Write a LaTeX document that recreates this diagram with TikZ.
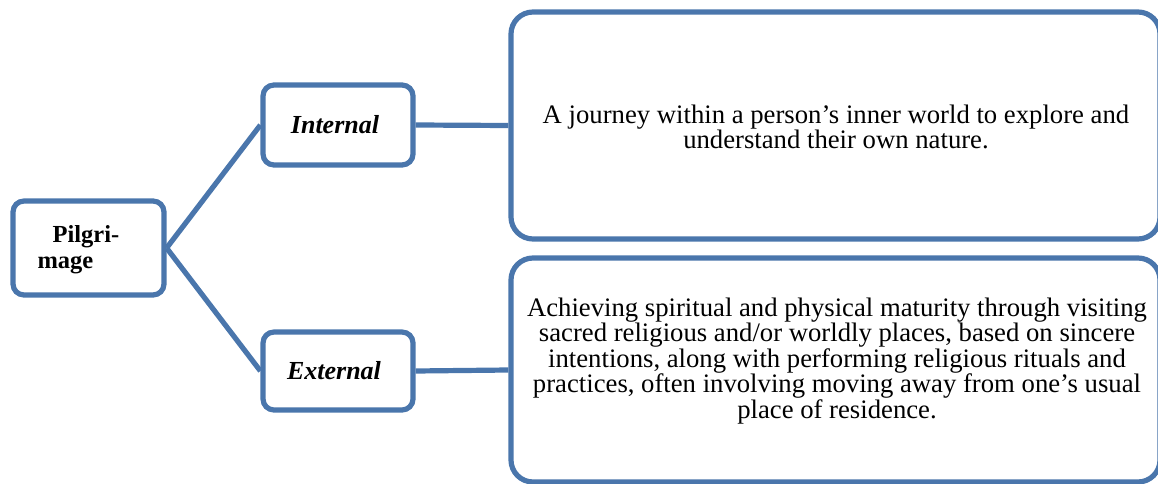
\documentclass[tikz,border=0pt]{standalone}
\usepackage{fontspec}
\setmainfont{Liberation Serif}
\usetikzlibrary{positioning}
\definecolor{boxblue}{RGB}{74,118,172}
\tikzset{
  smallbox/.style={draw=boxblue, line width=5.2pt, rounded corners=11pt, fill=white, inner sep=0pt},
  bigbox/.style={draw=boxblue, line width=5.2pt, rounded corners=22pt, fill=white, inner sep=0pt},
  link/.style={boxblue, line width=5.2pt},
  bodytext/.style={font=\fontsize{26.7}{24}\selectfont, align=center},
  labeltext/.style={font=\fontsize{26}{26}\selectfont\bfseries},
}

\begin{document}
\begin{tikzpicture}[x=1pt, y=-1pt]
  \useasboundingbox (0,0) rectangle (1158,484);
  \clip (0,0) rectangle (1158,484);
  % Root box
  \node[smallbox, minimum width=151pt, minimum height=94pt] (pilgrim) at (88.5,248) {};
  \node[labeltext, font=\fontsize{24.5}{26}\selectfont\bfseries, align=left, anchor=west]
    (pilgrimtxt) at (34,250) {\hspace*{15pt}Pilgri-\\mage};
  % Branch boxes
  \node[smallbox, labeltext, minimum width=150pt, minimum height=80pt] (internal) at (338,125)
    {\itshape Internal\hspace*{6pt}};
  \node[smallbox, labeltext, minimum width=150pt, minimum height=78pt] (external) at (338,371)
    {\itshape External\hspace*{8pt}};
  % Description boxes
  \node[bigbox, minimum width=649pt, minimum height=227pt] (innerbox) at (835.5,125.5) {};
  \node[bigbox, minimum width=649pt, minimum height=224pt] (outerbox) at (835.5,370) {};
  \node[bodytext] (innertxt) at (836,127)
    {A journey within a person’s inner world to explore and\\
     understand their own nature.};
  \node[bodytext] (outertxt) at (837,361)
    {Achieving spiritual and physical maturity through visiting\\
     sacred religious and/or worldly places, based on sincere\\
     intentions, along with performing religious rituals and\\
     practices, often involving moving away from one’s usual\\
     place of residence.};
  % Connectors
  \draw[link] (pilgrim.east) -- (internal.west);
  \draw[link] (pilgrim.east) -- (external.west);
  \draw[link] (internal.east) -- (innerbox.west);
  \draw[link] (external.east) -- (outerbox.west);
\end{tikzpicture}
\end{document}
